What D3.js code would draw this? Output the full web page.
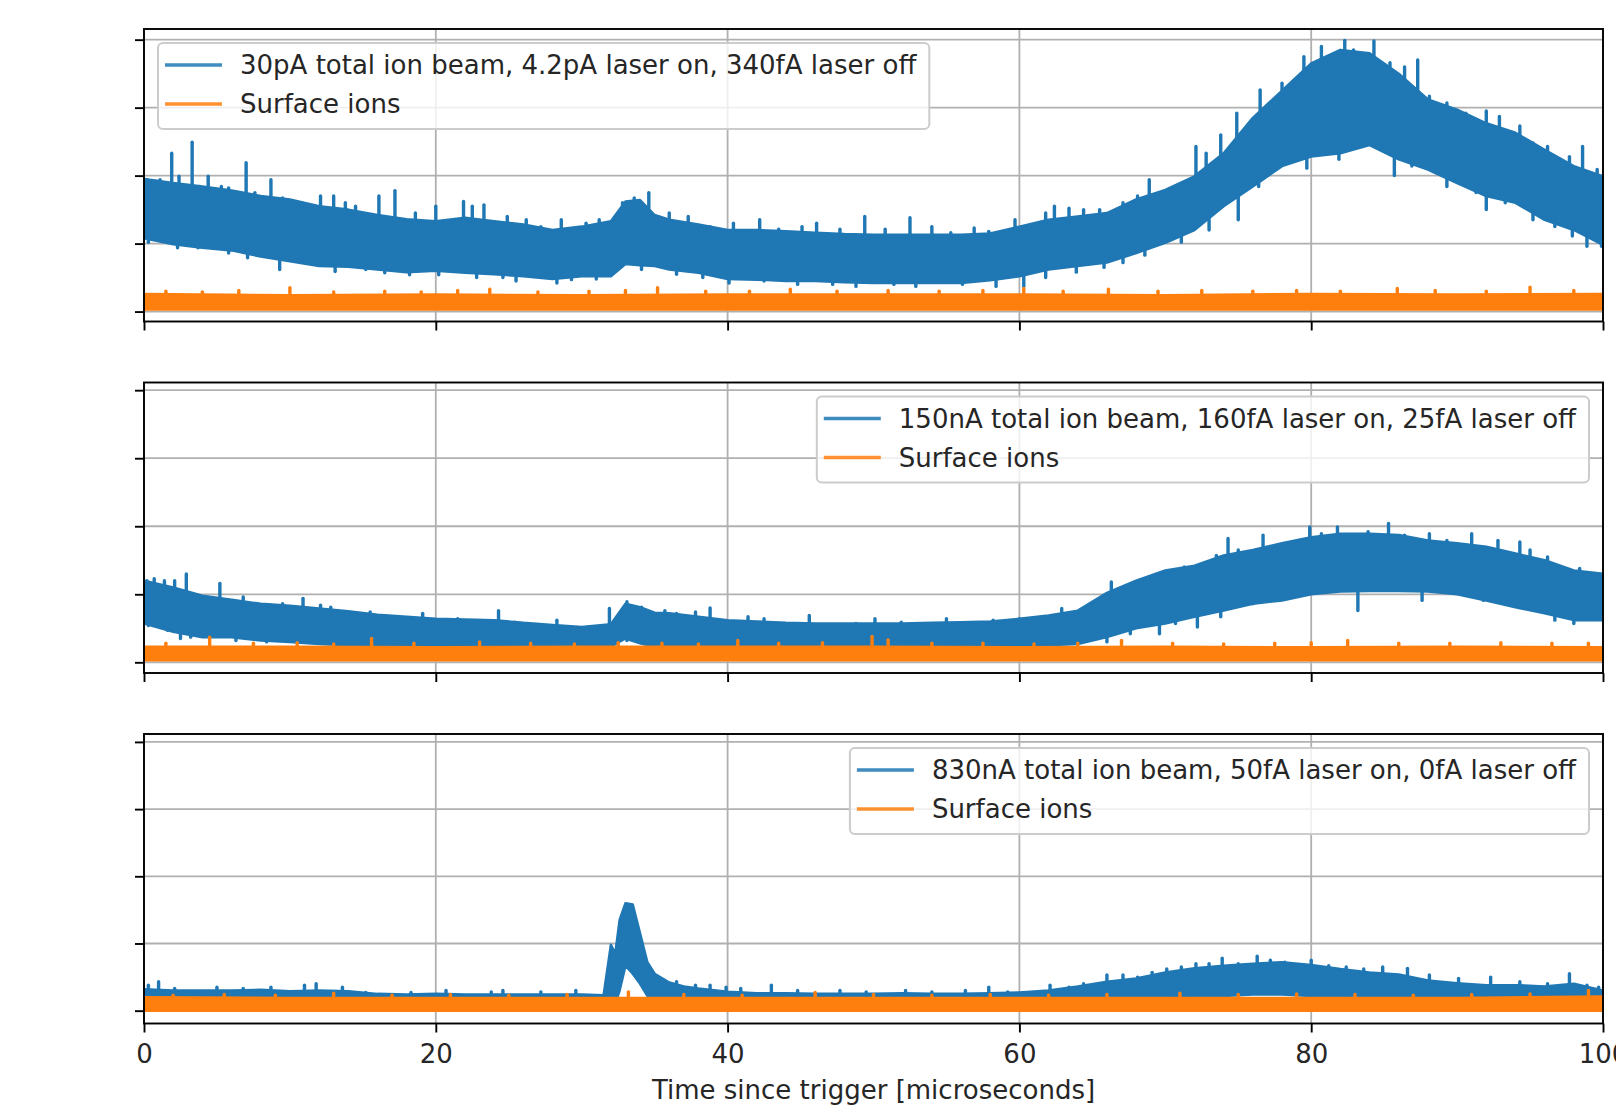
<!DOCTYPE html>
<html>
<head>
<meta charset="utf-8">
<script src="https://cdn.jsdelivr.net/npm/d3@7/dist/d3.min.js"></script>
<style>
  body { margin: 0; background: #fff; }
  svg { display: block; font-family: "DejaVu Sans", sans-serif; }
</style>
</head>
<body>
<div id="chart"></div>
<script>
// Ion current traces, three beam settings (y in arbitrary units, tick labels hidden)

const xTicks = [0, 20, 40, 60, 80, 100];
const yTicks = [0, 1, 2, 3, 4];
const xLabel = "Time since trigger [microseconds]";

// time knots (microseconds)
const timeAB = [0,2,4,6,8,10,12,14,16,18,20,22,24,26,28,30,32,33,34,35,36,38,40,42,44,46,48,50,52,54,56,58,60,62,64,66,68,70,72,74,76,78,80,82,84,86,88,90,92,94,96,98,100];
const timeC = [0,2,4,6,8,10,12,14,16,18,20,22,24,26,28,30,31.5,32,32.3,32.6,33,33.5,34,34.5,35,36,37,38,40,42,44,46,48,50,52,54,56,58,60,62,64,66,68,70,72,74,76,78,80,82,84,86,88,90,92,94,96,98,100];
const timeOrange = [0,10,20,30,40,50,60,70,80,90,100];

// panel A: 30pA beam (band envelope + noise spikes as [t, from, to])
const labelsA = ["30pA total ion beam, 4.2pA laser on, 340fA laser off", "Surface ions"];
const beamHiA = [1.95,1.89,1.84,1.78,1.70,1.65,1.55,1.50,1.42,1.36,1.33,1.38,1.33,1.28,1.20,1.25,1.33,1.62,1.64,1.42,1.35,1.28,1.20,1.20,1.18,1.16,1.14,1.13,1.13,1.13,1.13,1.15,1.25,1.35,1.40,1.45,1.65,1.79,1.99,2.33,2.85,3.25,3.65,3.85,3.80,3.50,3.12,2.97,2.77,2.63,2.38,2.14,1.99];
const beamLoA = [1.08,0.99,0.94,0.90,0.81,0.74,0.67,0.66,0.62,0.58,0.60,0.57,0.55,0.52,0.48,0.52,0.52,0.70,0.68,0.67,0.62,0.57,0.48,0.47,0.45,0.45,0.43,0.42,0.42,0.42,0.42,0.46,0.52,0.62,0.67,0.72,0.86,1.01,1.20,1.55,1.84,2.14,2.28,2.33,2.45,2.24,2.09,1.89,1.70,1.60,1.35,1.20,0.98];
const beamSpikesA = [
  [0.2,1.8,1.94],[0.6,1.8,1.92],[1.1,1.8,1.94],[1.9,1.75,2.33],[2.4,1.75,1.99],[3.3,1.7,2.49],[3.8,1.7,1.84],[4.4,1.7,1.99],[5.3,1.65,1.84],[5.8,1.65,1.82],
  [6.4,1.6,1.75],[7.0,1.6,2.19],[7.6,1.55,1.75],[8.7,1.5,1.94],[9.5,1.5,1.67],[10.8,1.45,1.60],[12.1,1.4,1.70],[13.0,1.35,1.70],[13.8,1.35,1.60],[14.5,1.3,1.55],
  [16.1,1.3,1.70],[17.2,1.25,1.78],[18.6,1.2,1.45],[20.0,1.2,1.55],[21.9,1.2,1.62],[22.5,1.2,1.55],[23.3,1.2,1.57],[24.9,1.15,1.40],[26.2,1.1,1.35],[27.2,1.05,1.25],
  [28.6,1.05,1.35],[30.3,1.1,1.30],[31.2,1.15,1.35],[32.8,1.4,1.60],[33.6,1.45,1.67],[34.6,1.4,1.75],[36.0,1.25,1.45],[37.3,1.2,1.40],[38.8,1.1,1.25],[40.4,1.05,1.30],
  [42.2,1.05,1.35],[43.5,1.05,1.21],[45.1,1.0,1.25],[46.1,1.0,1.30],[47.7,1.0,1.21],[49.4,1.0,1.40],[50.8,1.0,1.21],[52.5,1.0,1.38],[54.0,1.0,1.25],[55.3,1.0,1.16],
  [56.9,1.0,1.23],[57.9,1.0,1.18],[59.7,1.1,1.35],[61.8,1.2,1.45],[62.4,1.2,1.55],[63.4,1.25,1.52],[64.4,1.25,1.50],[65.5,1.3,1.50],[67.1,1.4,1.60],[68.1,1.5,1.70],
  [68.9,1.55,1.94],[70.3,1.65,1.75],[72.1,1.85,2.43],[72.8,1.9,2.33],[73.8,2.1,2.60],[74.9,2.3,2.92],[75.8,2.6,2.77],[76.5,2.7,3.26],[78.0,3.0,3.36],[79.5,3.4,3.75],
  [80.7,3.6,3.90],[82.3,3.7,3.99],[82.9,3.7,3.85],[84.3,3.65,3.98],[85.4,3.5,3.66],[86.4,3.3,3.60],[87.3,3.2,3.70],[88.1,3.0,3.17],[89.3,2.9,3.07],[90.6,2.8,2.92],
  [92.0,2.7,2.95],[92.9,2.65,2.87],[94.3,2.5,2.73],[95.2,2.4,2.48],[96.2,2.3,2.43],[97.7,2.1,2.28],[98.6,2.0,2.43],[99.6,1.9,2.09],
  [0.3,1.2,1.02],[2.3,1.1,0.94],[3.7,1.05,0.94],[5.8,1.0,0.86],[7.1,0.95,0.79],[9.3,0.85,0.62],[10.8,0.8,0.76],[13.1,0.75,0.59],[15.2,0.7,0.62],[16.5,0.7,0.57],
  [18.2,0.65,0.54],[20.2,0.65,0.54],[22.8,0.65,0.50],[24.6,0.6,0.50],[25.5,0.6,0.45],[28.3,0.55,0.42],[29.3,0.55,0.47],[31.0,0.6,0.48],[34.1,0.75,0.62],[36.5,0.7,0.55],
  [38.3,0.65,0.50],[40.1,0.55,0.42],[42.5,0.55,0.45],[44.8,0.55,0.40],[47.2,0.5,0.40],[48.8,0.5,0.37],[51.4,0.5,0.40],[52.9,0.5,0.37],[56.1,0.5,0.40],[58.4,0.5,0.37],
  [60.3,0.6,0.37],[61.8,0.6,0.50],[63.9,0.7,0.58],[65.8,0.8,0.65],[67.1,0.85,0.72],[68.6,0.95,0.83],[71.1,1.15,1.02],[73.0,1.45,1.20],[75.0,1.7,1.35],[76.4,1.95,1.84],
  [79.7,2.35,2.11],[81.9,2.4,2.24],[85.7,2.35,2.00],[86.9,2.3,2.14],[89.3,2.0,1.84],[91.3,1.85,1.75],[92.0,1.8,1.50],[93.3,1.75,1.60],[95.2,1.5,1.35],[96.7,1.4,1.25],
  [97.9,1.3,1.11],[98.9,1.1,0.96],[99.9,1.05,0.96]
];
const surfHiA = [0.26,0.24,0.25,0.24,0.25,0.25,0.25,0.24,0.26,0.25,0.26];
const surfLoA = [0.03,0.03,0.03,0.03,0.03,0.03,0.03,0.03,0.03,0.03,0.03];
const surfSpikesA = [[1.5,0.2,0.30],[4.0,0.2,0.29],[6.5,0.2,0.31],[10.0,0.2,0.35],[13.0,0.2,0.29],[16.5,0.2,0.30],[19.0,0.2,0.29],[21.5,0.2,0.31],[23.7,0.2,0.33],[27.0,0.2,0.29],
  [30.5,0.2,0.30],[33.0,0.2,0.31],[35.2,0.2,0.35],[38.5,0.2,0.30],[41.5,0.2,0.30],[44.3,0.2,0.33],[47.5,0.2,0.30],[51.0,0.2,0.31],[54.5,0.2,0.30],[57.5,0.2,0.31],
  [60.3,0.2,0.34],[63.0,0.2,0.30],[66.1,0.2,0.33],[69.5,0.2,0.30],[72.5,0.2,0.31],[76.0,0.2,0.30],[79.0,0.2,0.31],[82.0,0.2,0.30],[85.9,0.2,0.34],[88.5,0.2,0.31],
  [92.0,0.2,0.30],[95.0,0.2,0.36],[98.0,0.2,0.31]];

// panel B: 150nA beam
const labelsB = ["150nA total ion beam, 160fA laser on, 25fA laser off", "Surface ions"];
const beamHiB = [1.20,1.10,0.98,0.92,0.86,0.83,0.79,0.75,0.70,0.67,0.64,0.63,0.62,0.58,0.55,0.52,0.56,0.86,0.81,0.73,0.72,0.67,0.62,0.60,0.58,0.57,0.57,0.57,0.57,0.58,0.59,0.60,0.64,0.69,0.76,1.02,1.20,1.35,1.42,1.57,1.65,1.75,1.84,1.89,1.89,1.87,1.79,1.75,1.70,1.60,1.50,1.35,1.30];
const beamLoB = [0.57,0.45,0.37,0.37,0.32,0.30,0.27,0.25,0.23,0.23,0.23,0.23,0.23,0.23,0.23,0.23,0.23,0.35,0.28,0.23,0.23,0.23,0.23,0.23,0.23,0.23,0.23,0.23,0.23,0.23,0.23,0.23,0.23,0.25,0.27,0.37,0.50,0.57,0.67,0.76,0.86,0.91,1.00,1.04,1.05,1.05,1.04,1.00,0.91,0.81,0.72,0.62,0.62];
const beamSpikesB = [
  [0.2,1.1,1.20],[0.7,1.1,1.23],[1.4,1.05,1.20],[2.1,1.0,1.20],[2.9,0.95,1.30],[3.7,0.9,0.96],[5.2,0.85,1.16],[6.1,0.85,0.91],[6.8,0.85,0.96],[8.7,0.8,0.84],
  [9.5,0.8,0.86],[10.9,0.75,0.94],[12.1,0.7,0.84],[12.8,0.7,0.81],[15.5,0.65,0.74],[19.1,0.6,0.72],[21.5,0.55,0.64],[24.3,0.55,0.76],[25.4,0.5,0.59],[28.3,0.5,0.62],
  [31.9,0.5,0.79],[33.1,0.75,0.89],[34.1,0.7,0.81],[35.7,0.65,0.76],[36.5,0.65,0.72],[37.8,0.6,0.74],[38.8,0.6,0.80],[41.4,0.55,0.67],[42.5,0.55,0.64],[45.6,0.5,0.69],
  [48.8,0.5,0.57],[50.1,0.5,0.64],[51.9,0.5,0.59],[55.0,0.5,0.64],[58.2,0.5,0.62],[60.0,0.55,0.64],[61.6,0.6,0.67],[62.9,0.65,0.79],[64.4,0.7,0.76],[66.3,0.95,1.18],
  [67.1,1.0,1.06],[68.1,1.05,1.13],[69.3,1.15,1.28],[70.3,1.25,1.33],[71.3,1.3,1.40],[72.6,1.35,1.43],[73.5,1.45,1.57],[74.3,1.45,1.82],[75.0,1.55,1.65],[76.7,1.6,1.87],
  [78.0,1.65,1.70],[79.0,1.7,1.75],[79.9,1.75,1.99],[80.7,1.8,1.89],[81.8,1.8,1.99],[83.9,1.8,1.92],[85.3,1.8,2.04],[86.4,1.8,1.87],[88.1,1.75,1.89],[89.3,1.7,1.79],
  [91.0,1.65,1.89],[92.8,1.6,1.79],[94.3,1.55,1.77],[95.0,1.5,1.65],[96.2,1.45,1.55],[97.7,1.3,1.35],[98.4,1.3,1.38],
  [0.3,0.65,0.54],[1.6,0.55,0.47],[2.5,0.45,0.35],[3.2,0.45,0.37],[4.5,0.45,0.37],[6.3,0.4,0.32],[8.4,0.4,0.30],[33.1,0.45,0.32],[66.0,0.4,0.30],[67.6,0.5,0.42],
  [69.6,0.55,0.42],[70.7,0.65,0.57],[72.2,0.75,0.52],[73.8,0.75,0.67],[76.0,0.95,0.86],[79.9,1.1,1.01],[83.2,1.1,0.76],[87.6,1.1,0.91],[91.8,1.0,0.91],[94.3,0.9,0.81],
  [96.7,0.8,0.62],[98.0,0.7,0.57]
];
const surfHiB = [0.23,0.23,0.22,0.23,0.23,0.23,0.22,0.23,0.22,0.23,0.22];
const surfLoB = [0.03,0.03,0.03,0.03,0.03,0.03,0.03,0.03,0.03,0.03,0.03];
const surfSpikesB = [[1.5,0.2,0.28],[4.5,0.2,0.37],[7.5,0.2,0.28],[10.5,0.2,0.29],[13.0,0.2,0.27],[15.6,0.2,0.35],[18.5,0.2,0.28],[23.0,0.2,0.30],[26.5,0.2,0.28],[29.5,0.2,0.27],
  [32.5,0.2,0.29],[35.5,0.2,0.28],[38.0,0.2,0.27],[40.7,0.2,0.32],[43.5,0.2,0.28],[46.5,0.2,0.29],[49.9,0.2,0.38],[51.0,0.2,0.33],[54.0,0.2,0.28],[57.5,0.2,0.28],
  [61.0,0.2,0.27],[64.0,0.2,0.28],[67.0,0.2,0.32],[70.5,0.2,0.28],[74.0,0.2,0.27],[77.5,0.2,0.28],[80.0,0.2,0.29],[82.5,0.2,0.32],[86.0,0.2,0.28],[89.5,0.2,0.28],
  [93.0,0.2,0.29],[96.5,0.2,0.28],[99.0,0.2,0.28]];

// panel C: 830nA beam
const labelsC = ["830nA total ion beam, 50fA laser on, 0fA laser off", "Surface ions"];
const beamHiC = [0.32,0.30,0.30,0.30,0.31,0.29,0.30,0.29,0.25,0.24,0.25,0.24,0.24,0.24,0.24,0.24,0.23,0.98,0.85,1.35,1.60,1.58,1.15,0.72,0.55,0.42,0.36,0.33,0.28,0.26,0.26,0.25,0.25,0.25,0.26,0.25,0.25,0.26,0.27,0.30,0.36,0.43,0.48,0.57,0.63,0.67,0.70,0.72,0.68,0.62,0.57,0.54,0.45,0.41,0.38,0.38,0.36,0.40,0.30];
const beamLoC = [0.06,0.06,0.06,0.06,0.06,0.06,0.06,0.06,0.06,0.06,0.06,0.06,0.06,0.06,0.06,0.06,0.06,0.08,0.10,0.30,0.67,0.55,0.40,0.22,0.10,0.08,0.08,0.08,0.08,0.08,0.08,0.08,0.08,0.08,0.08,0.08,0.08,0.08,0.08,0.10,0.12,0.14,0.16,0.18,0.20,0.22,0.24,0.24,0.22,0.20,0.18,0.15,0.12,0.10,0.10,0.10,0.10,0.10,0.10];
const beamSpikesC = [
  [0.3,0.25,0.38],[1.0,0.25,0.43],[2.1,0.25,0.33],[5.0,0.25,0.35],[6.8,0.25,0.33],[8.7,0.25,0.35],[11.0,0.22,0.38],[11.8,0.22,0.40],[13.6,0.22,0.35],[15.2,0.2,0.27],
  [18.3,0.2,0.27],[20.7,0.2,0.30],[23.8,0.2,0.28],[24.6,0.2,0.30],[27.2,0.2,0.28],[29.6,0.2,0.30],[36.5,0.3,0.43],[37.8,0.28,0.38],[38.8,0.26,0.38],[39.9,0.24,0.35],
  [40.9,0.22,0.33],[43.0,0.22,0.38],[44.8,0.22,0.30],[47.7,0.22,0.30],[49.5,0.22,0.28],[52.2,0.22,0.30],[54.0,0.22,0.28],[56.3,0.22,0.30],[57.9,0.22,0.35],[59.2,0.22,0.28],
  [62.1,0.28,0.38],[63.4,0.3,0.35],[64.4,0.32,0.40],[66.0,0.36,0.53],[67.1,0.4,0.53],[68.1,0.42,0.50],[69.1,0.46,0.57],[70.1,0.5,0.62],[71.1,0.55,0.65],[72.1,0.58,0.70],
  [73.0,0.6,0.70],[73.9,0.62,0.78],[75.0,0.64,0.70],[76.3,0.65,0.81],[77.2,0.66,0.75],[78.2,0.66,0.72],[80.0,0.64,0.75],[81.2,0.6,0.67],[82.4,0.56,0.65],[83.6,0.53,0.62],
  [84.9,0.5,0.65],[86.6,0.48,0.63],[88.1,0.43,0.53],[90.1,0.38,0.48],[92.3,0.36,0.50],[94.3,0.35,0.43],[96.2,0.34,0.40],[97.7,0.35,0.55],[98.9,0.33,0.38],[99.7,0.28,0.35]
];
const surfHiC = [0.20,0.19,0.19,0.19,0.19,0.19,0.19,0.19,0.19,0.19,0.21];
const surfLoC = [0.00,0.00,0.00,0.00,0.00,0.00,0.00,0.00,0.00,0.00,0.00];
const surfSpikesC = [[2.0,0.15,0.23],[5.5,0.15,0.24],[9.0,0.15,0.23],[13.0,0.15,0.26],[17.0,0.15,0.23],[21.0,0.15,0.24],[25.0,0.15,0.23],[29.0,0.15,0.24],[33.2,0.15,0.28],[37.0,0.15,0.24],
  [41.0,0.15,0.23],[46.0,0.15,0.27],[50.0,0.15,0.24],[54.0,0.15,0.23],[58.0,0.15,0.24],[62.0,0.15,0.23],[66.0,0.15,0.24],[71.0,0.15,0.26],[75.0,0.15,0.24],[79.0,0.15,0.25],
  [83.0,0.15,0.24],[87.0,0.15,0.23],[91.0,0.15,0.24],[95.0,0.15,0.25],[99.0,0.15,0.30]];

const colors = {beam: "#1f77b4", surf: "#ff7f0e"};

function createIonChart() {
    const W = 1616, H = 1107;
    const left = 144, right = 1603;
    const fs = 26;

    const panels = [
        {top: 29, bottom: 321.5, yDomain: [-0.146, 4.157], t: timeAB, hi: beamHiA, lo: beamLoA, spikes: beamSpikesA,
         sHi: surfHiA, sLo: surfLoA, sSpikes: surfSpikesA, labels: labelsA, legendSide: "left"},
        {top: 382.5, bottom: 673, yDomain: [-0.157, 4.113], t: timeAB, hi: beamHiB, lo: beamLoB, spikes: beamSpikesB,
         sHi: surfHiB, sLo: surfLoB, sSpikes: surfSpikesB, labels: labelsB, legendSide: "right"},
        {top: 734, bottom: 1023.5, yDomain: [-0.191, 4.118], t: timeC, hi: beamHiC, lo: beamLoC, spikes: beamSpikesC,
         sHi: surfHiC, sLo: surfLoC, sSpikes: surfSpikesC, labels: labelsC, legendSide: "right"}
    ];

    d3.select("#chart").html("");
    const svg = d3.select("#chart").append("svg")
        .attr("width", W)
        .attr("height", H);

    const x = d3.scaleLinear().domain([0, 100]).range([left, right]);

    panels.forEach((p, pi) => {
        const y = d3.scaleLinear().domain(p.yDomain).range([p.bottom, p.top]);
        const g = svg.append("g");

        // clip to axes
        const clipId = "clip" + pi;
        g.append("clipPath").attr("id", clipId)
            .append("rect")
            .attr("x", left).attr("y", p.top)
            .attr("width", right - left).attr("height", p.bottom - p.top);

        // grid
        g.append("g").selectAll("line").data(xTicks).join("line")
            .attr("x1", d => x(d)).attr("x2", d => x(d))
            .attr("y1", p.top).attr("y2", p.bottom)
            .attr("stroke", "#b0b0b0").attr("stroke-width", 1.8);
        g.append("g").selectAll("line").data(yTicks).join("line")
            .attr("x1", left).attr("x2", right)
            .attr("y1", d => y(d)).attr("y2", d => y(d))
            .attr("stroke", "#b0b0b0").attr("stroke-width", 1.8);

        const plot = g.append("g").attr("clip-path", `url(#${clipId})`);

        const area = d3.area()
            .x(d => x(d.t))
            .y0(d => y(d.lo))
            .y1(d => y(d.hi));

        function band(rows, spikes, color) {
            plot.append("path")
                .datum(rows)
                .attr("d", area)
                .attr("fill", color)
                .attr("stroke", color)
                .attr("stroke-width", 2.5)
                .attr("stroke-linejoin", "round");
            plot.append("g").selectAll("line").data(spikes).join("line")
                .attr("x1", d => x(d[0])).attr("x2", d => x(d[0]))
                .attr("y1", d => y(d[1])).attr("y2", d => y(d[2]))
                .attr("stroke", color).attr("stroke-width", 3.4)
                .attr("stroke-linecap", "round");
        }

        band(p.t.map((t, i) => ({t: t, lo: p.lo[i], hi: p.hi[i]})), p.spikes, colors.beam);
        band(timeOrange.map((t, i) => ({t: t, lo: p.sLo[i], hi: p.sHi[i]})), p.sSpikes, colors.surf);

        // axes: ticks outward, no y labels
        const isLast = pi === panels.length - 1;
        const xAxis = g.append("g")
            .attr("transform", `translate(0,${p.bottom})`)
            .call(d3.axisBottom(x).tickValues(xTicks).tickSize(9).tickPadding(12)
                .tickFormat(isLast ? d3.format("d") : () => ""));
        xAxis.select(".domain").remove();
        xAxis.selectAll(".tick line").attr("stroke", "#000").attr("stroke-width", 1.9);
        xAxis.selectAll("text").attr("font-size", fs).attr("fill", "#262626")
            .attr("font-family", "DejaVu Sans, sans-serif");

        const yAxis = g.append("g")
            .attr("transform", `translate(${left},0)`)
            .call(d3.axisLeft(y).tickValues(yTicks).tickSize(9).tickFormat(() => ""));
        yAxis.select(".domain").remove();
        yAxis.selectAll(".tick line").attr("stroke", "#000").attr("stroke-width", 1.9);

        // spines
        g.append("rect")
            .attr("x", left).attr("y", p.top)
            .attr("width", right - left).attr("height", p.bottom - p.top)
            .attr("fill", "none").attr("stroke", "#000").attr("stroke-width", 1.9);

        // legend
        const lg = g.append("g");
        const rowY = [22, 61];
        const texts = p.labels.map((lab, i) => lg.append("text")
            .attr("x", 82).attr("y", rowY[i]).attr("dy", "0.35em")
            .attr("font-size", fs).attr("fill", "#262626")
            .text(lab));
        const tw = d3.max(texts, t => t.node().getComputedTextLength());
        const boxW = 82 + tw + 13, boxH = 86;
        const bx = p.legendSide === "left" ? left + 14 : right - 14 - boxW;
        lg.attr("transform", `translate(${bx},${p.top + 14})`);
        lg.insert("rect", ":first-child")
            .attr("width", boxW).attr("height", boxH).attr("rx", 5)
            .attr("fill", "#fff").attr("fill-opacity", 0.8)
            .attr("stroke", "#cccccc").attr("stroke-width", 2);
        [colors.beam, colors.surf].forEach((c, i) => {
            lg.append("line")
                .attr("x1", 7).attr("x2", 64)
                .attr("y1", rowY[i]).attr("y2", rowY[i])
                .attr("stroke", c).attr("stroke-width", 3.6).attr("opacity", 0.85);
        });
    });

    // x axis label
    svg.append("text")
        .attr("x", (left + right) / 2)
        .attr("y", 1099)
        .attr("text-anchor", "middle")
        .attr("font-size", fs)
        .attr("fill", "#262626")
        .text(xLabel);
}

createIonChart();
</script>
</body>
</html>
